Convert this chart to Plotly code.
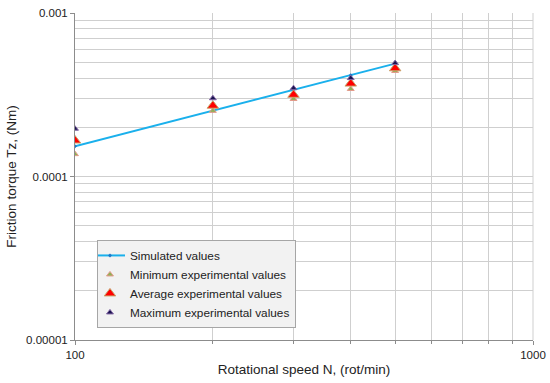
import plotly.graph_objects as go

speed = [100, 200, 300, 400, 500]
simulated = [1.53e-4, 2.52e-4, 3.40e-4, 4.16e-4, 4.90e-4]
minimum = [1.37e-4, 2.52e-4, 2.98e-4, 3.43e-4, 4.42e-4]
average = [1.66e-4, 2.71e-4, 3.16e-4, 3.70e-4, 4.59e-4]
maximum = [1.96e-4, 3.01e-4, 3.47e-4, 4.00e-4, 4.94e-4]

y_ticks = [1e-5, 1e-4, 1e-3]
y_ticktext = ["0.00001", "0.0001", "0.001"]
x_ticks = [100, 1000]
x_ticktext = ["100", "1000"]
x_minor = [200, 300, 400, 500, 600, 700, 800, 900]
y_minor = [m * 1e-5 for m in range(2, 10)] + [m * 1e-4 for m in range(2, 10)]

fig = go.Figure()
fig.add_trace(go.Scatter(x=speed, y=simulated, mode="lines+markers", name="Simulated values",
                         line=dict(color="#1AB0EC", width=2),
                         marker=dict(symbol="diamond", size=3, color="#1F77C8")))
fig.add_trace(go.Scatter(x=speed, y=minimum, mode="markers", name="Minimum experimental values",
                         marker=dict(symbol="triangle-up", size=6, color="#8DB255",
                                     line=dict(color="#E49A8A", width=1))))
fig.add_trace(go.Scatter(x=speed, y=average, mode="markers", name="Average experimental values",
                         marker=dict(symbol="triangle-up", size=10, color="#FF0000",
                                     line=dict(color="#C9A46A", width=1))))
fig.add_trace(go.Scatter(x=speed, y=maximum, mode="markers", name="Maximum experimental values",
                         marker=dict(symbol="triangle-up", size=6, color="#1A1450",
                                     line=dict(color="#8064A2", width=1))))

grid_color = "#CFCFCF"
fig.update_layout(
    width=550, height=383,
    margin=dict(l=75, r=17, t=13, b=43, autoexpand=False),
    paper_bgcolor="white", plot_bgcolor="white",
    font=dict(family="Liberation Sans, Arial, sans-serif", size=11, color="#222"),
    legend=dict(x=0.048, y=0.306, xanchor="left", yanchor="top",
                bgcolor="#F2F2F2", bordercolor="#A6A6A6", borderwidth=1,
                font=dict(size=11.8, color="#222"), tracegroupgap=0, itemwidth=30,
                indentation=-8),
    xaxis=dict(type="log", range=[2, 3], tickmode="array", tickvals=x_ticks, ticktext=x_ticktext,
               showgrid=True, gridcolor=grid_color, gridwidth=1, automargin=False,
               showline=True, linecolor="#8C8C8C", linewidth=1,
               ticks="outside", ticklen=4, tickcolor="#8C8C8C",
               minor=dict(tickmode="array", tickvals=x_minor, showgrid=True, gridcolor=grid_color,
                          ticks="outside", ticklen=3, tickcolor="#8C8C8C"),
               title=dict(text="Rotational speed N, (rot/min)", font=dict(size=13.5), standoff=4),
               tickfont=dict(size=11.5), zeroline=False, mirror=False),
    yaxis=dict(type="log", range=[-5, -3], tickmode="array", tickvals=y_ticks, ticktext=y_ticktext,
               showgrid=True, gridcolor=grid_color, gridwidth=1, automargin=False,
               showline=True, linecolor="#8C8C8C", linewidth=1,
               ticks="outside", ticklen=4, tickcolor="#8C8C8C",
               minor=dict(tickmode="array", tickvals=y_minor, showgrid=True, gridcolor=grid_color,
                          ticks=""),
               title=dict(text="Friction torque Tz, (Nm)", font=dict(size=13.5), standoff=6),
               tickfont=dict(size=11.5), zeroline=False),
)

fig.add_shape(type="line", xref="paper", yref="paper", x0=1, x1=1, y0=0, y1=1,
              line=dict(color=grid_color, width=1))

fig.write_html("out.html", config={"displayModeBar": False},
               post_script="document.body.style.margin='0';")
